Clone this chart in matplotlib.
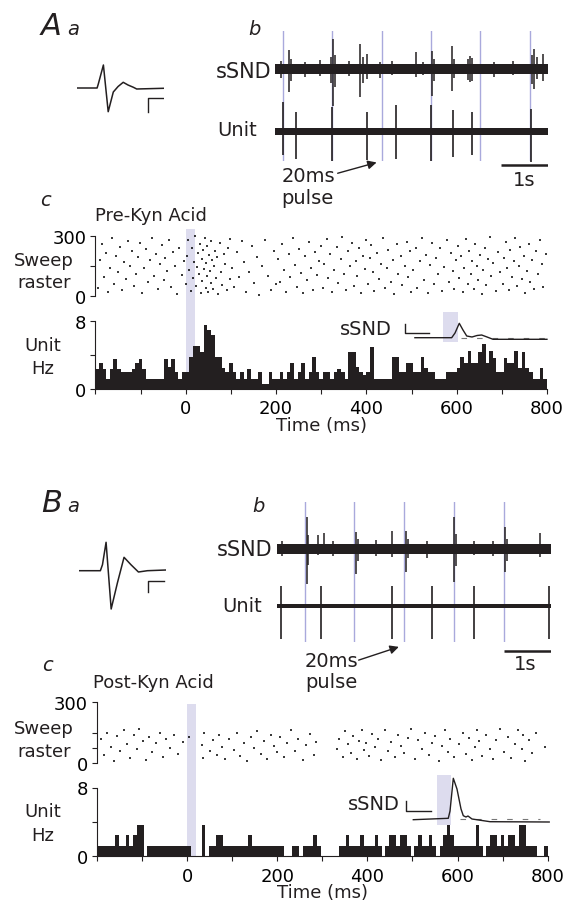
import numpy as np
import matplotlib
matplotlib.use('Agg')
import matplotlib.pyplot as plt

plt.rcParams['font.family'] = ['DejaVu Sans']
plt.rcParams['font.size'] = 13

W, H = 569, 904
INK = '#231f20'
SHADE = '#dddcee'
PULSE = '#a9a9dc'

# PSTH, 8 ms bins from -200 to 800 ms
bin_ms = 8
psth_a_hz = [2.4, 3.1, 2.4, 1.2, 2.4, 3.5, 2.4, 2.0, 2.0, 2.0, 2.4, 3.1, 3.5, 2.4, 1.2, 1.2, 1.2, 1.2, 1.2, 3.5, 2.6, 3.5, 2.0, 1.2, 2.0,
             2.0, 3.8, 5.1, 5.1, 4.3, 7.5, 6.9, 6.4, 3.8, 3.8, 2.5, 2.0, 3.1, 2.0, 1.2, 2.0, 1.2, 2.4, 1.2, 1.2, 2.0, 0.6, 0.6, 2.0, 1.2,
             1.2, 2.0, 1.2, 2.0, 3.1, 1.2, 2.0, 3.1, 1.2, 2.0, 3.8, 2.0,
             1.2, 2.0, 2.0, 1.2, 2.0, 2.4, 2.0, 1.2, 4.4, 4.4, 2.6, 2.0, 1.6,
             2.0, 5.0, 1.2, 1.2, 1.2, 1.2, 1.2, 3.8, 3.8, 2.0, 2.0, 3.1, 3.1, 2.0, 2.0, 3.8, 2.5, 2.0, 2.0, 1.2, 1.2, 1.2, 2.0, 2.0, 2.0,
             2.5, 3.8, 3.1, 4.5, 3.1, 3.1, 4.3, 5.3, 3.1, 4.5, 3.7, 2.0, 2.0, 3.7, 3.1, 3.1, 4.5, 2.5, 4.3, 2.5, 2.0, 1.2, 1.2, 2.5, 1.2]
psth_b_counts = [1, 1, 1, 1, 1, 2, 1, 1, 2, 1,
                 2, 3, 3, 0, 1, 1, 1, 1, 1, 1,
                 1, 1, 1, 1, 1, 1, 0, 0, 0, 3,
                 0, 1, 1, 2, 2, 1, 1, 1, 1, 1,
                 1, 1, 2, 1, 1, 1, 1, 1, 1, 1,
                 1, 1, 0, 0, 1, 1, 0, 1, 1, 1,
                 2, 1, 0, 0, 0, 0,
                 0, 1, 1, 2, 1, 1, 1, 2, 1, 1,
                 1, 2, 1, 0, 1, 2, 2, 1, 2, 2,
                 1, 0, 1, 2, 1, 1, 2, 1, 0, 1,
                 2, 3, 2, 1, 1, 1, 1, 1, 1, 3,
                 1, 0, 1, 2, 2, 1, 2, 1, 2, 2,
                 1, 3, 3, 1, 1, 1, 0, 0, 1]
hz_per_spike = 1.22

# sweep rasters: (time ms, sweep)
raster_a = [(-195, 40), (-190, 180), (-186, 260), (-181, 95), (-176, 215), (-172, 20), (-168, 140), (-163, 290), (-158, 60),
            (-154, 200), (-150, 120), (-146, 245), (-141, 30), (-137, 170), (-132, 85), (-128, 275), (-124, 150), (-119, 225),
            (-114, 50), (-110, 110), (-105, 195), (-102, 265),
            (-97, 15), (-93, 140), (-89, 235), (-84, 70), (-80, 180), (-75, 290), (-71, 100), (-66, 210), (-62, 35), (-58, 160),
            (-53, 255), (-49, 80), (-45, 190), (-41, 125), (-37, 280), (-33, 45), (-29, 220), (-24, 150), (-19, 10), (-14, 240),
            (-9, 105), (-4, 175),
            (1, 60), (3, 200), (6, 280), (8, 130), (11, 25), (13, 240), (16, 90), (18, 170), (21, 300), (23, 50), (25, 145),
            (27, 215), (29, 110), (31, 260), (33, 15), (35, 185), (37, 75), (39, 230), (40, 135), (42, 290), (44, 40), (45, 165),
            (47, 100), (48, 250), (50, 20), (52, 205), (53, 125), (55, 65), (57, 275), (58, 180), (60, 35), (62, 150), (64, 225),
            (66, 90), (69, 195), (72, 10), (75, 265), (78, 120), (81, 55), (84, 210), (88, 160), (91, 30), (94, 240), (97, 85),
            (99, 285),
            (103, 140), (108, 45), (113, 220), (118, 95), (124, 275), (129, 170), (134, 20), (140, 120), (146, 250), (151, 65),
            (157, 195), (163, 5), (170, 150), (176, 280), (183, 100), (189, 30), (195, 225), (199, 60),
            (204, 185), (209, 70), (214, 260), (218, 130), (223, 20), (228, 210), (232, 95), (237, 290), (241, 155), (246, 45),
            (250, 235), (255, 115), (259, 15), (264, 200), (268, 80), (273, 270), (277, 140), (282, 30), (286, 220), (291, 105),
            (295, 175), (299, 250),
            (303, 40), (307, 160), (312, 285), (316, 90), (320, 210), (325, 20), (329, 130), (334, 245), (338, 65), (343, 185),
            (347, 295), (351, 110), (356, 30), (360, 225), (364, 150), (368, 265), (372, 50), (376, 175), (380, 100), (384, 240),
            (388, 15), (392, 200), (396, 135), (399, 280),
            (403, 60), (407, 190), (411, 255), (414, 120), (418, 25), (423, 215), (427, 85), (432, 160), (436, 290), (441, 40),
            (445, 140), (449, 230), (454, 70), (458, 180), (462, 10), (467, 260), (471, 110), (476, 200), (480, 55), (485, 150),
            (489, 270), (493, 95), (497, 225), (499, 20),
            (504, 130), (509, 240), (513, 40), (518, 175), (523, 290), (527, 80), (532, 205), (536, 15), (541, 155), (545, 265),
            (550, 60), (555, 190), (559, 110), (564, 240), (568, 25), (573, 145), (578, 280), (582, 70), (587, 215), (591, 125),
            (595, 35), (599, 180),
            (603, 250), (606, 90), (610, 200), (613, 20), (617, 140), (620, 285), (624, 60), (627, 225), (631, 110), (634, 175),
            (638, 35), (641, 260), (645, 150), (648, 80), (652, 205), (655, 10), (659, 130), (662, 240), (666, 55), (669, 185),
            (673, 295), (677, 100), (681, 165), (686, 25), (691, 220), (696, 120),
            (702, 60), (705, 190), (709, 270), (712, 140), (716, 30), (719, 230), (723, 95), (727, 175), (730, 290), (734, 50),
            (738, 150), (741, 245), (745, 85), (748, 200), (752, 15), (756, 125), (760, 260), (763, 70), (767, 180), (771, 35),
            (775, 225), (779, 110), (784, 280), (788, 160), (792, 45), (797, 210)]
raster_b = [(-192, 120), (-185, 40), (-178, 150), (-170, 80), (-163, 10), (-155, 135), (-148, 60), (-141, 160), (-133, 95),
            (-126, 25), (-118, 140), (-112, 70), (-106, 165), (-99, 110), (-92, 15), (-84, 130), (-77, 55), (-69, 100),
            (-61, 150), (-54, 30), (-46, 120), (-38, 75), (-29, 140), (-20, 45), (-10, 105),
            (4, 130), (33, 90), (35, 25), (38, 150), (51, 60), (58, 115), (66, 40), (70, 140), (77, 80), (85, 20), (93, 120),
            (104, 65), (111, 150), (118, 35), (126, 100), (133, 10), (141, 130), (148, 75), (156, 155), (163, 45), (171, 110),
            (178, 20), (186, 140), (193, 85), (199, 55),
            (206, 130), (214, 30), (222, 100), (231, 160), (239, 60), (247, 120), (256, 15), (264, 90), (272, 145), (281, 40),
            (286, 105),
            (333, 70), (338, 120), (345, 30), (350, 155), (356, 95), (363, 50), (369, 135), (376, 20), (382, 110), (388, 160),
            (393, 65), (397, 100),
            (404, 35), (411, 145), (417, 80), (424, 120), (431, 15), (438, 160), (446, 60), (453, 105), (461, 30), (468, 140),
            (475, 85), (482, 50), (489, 125), (496, 165),
            (506, 20), (513, 115), (521, 70), (528, 150), (536, 40), (543, 100), (551, 135), (558, 10), (566, 85), (573, 160),
            (579, 55), (583, 120), (592, 30),
            (604, 95), (611, 150), (618, 45), (625, 125), (632, 15), (639, 80), (644, 160), (647, 110), (655, 35), (663, 140),
            (671, 70), (679, 20), (686, 115), (695, 165),
            (703, 55), (711, 130), (719, 25), (727, 95), (735, 160), (742, 70), (745, 140), (749, 10), (758, 115), (766, 50),
            (774, 150), (794, 80)]

# averaged unit waveforms (a)
wave_a_t = [0, 0.67, 0.71, 0.88, 1.04, 1.21, 1.37, 1.54, 1.70, 1.88, 1.99, 2.88]
wave_a_v = [0, 0, 4, 23, -23.7, -4, 1.5, 5.7, 3, 0.7, -1, -0.3]
wave_b_t = [0, 0.73, 0.80, 0.92, 1.09, 1.30, 1.52, 1.75, 2.00, 2.30, 2.92]
wave_b_v = [0, 0, 6, 28.4, -38.3, -12, 13.4, 6, -1.3, 0, 0.7]

# averaged sSND insets, ms from pulse onset
avg_a_t = [-40, 11.8, 16.5, 22.5, 27.7, 33, 40.4, 47.5, 54, 61.6, 70, 146]
avg_a_v = [0, 0, 4.7, 14.4, 7.7, 1.7, 0.7, 2.2, 2.7, 0.7, -1.6, -1.6]
avg_b_t = [-35.8, 16.4, 19, 23.9, 29.4, 35.4, 38.8, 42.8, 45.8, 51.8, 78.7, 167]
avg_b_v = [0, 1.4, 8.7, 41.4, 30.7, 10.7, 4, 2.7, 3.7, 0.7, -2, -2.3]

# raw traces (b): pulse times (s) and events (time s, up, down)
pulses_a = [0.17, 1.20, 2.24, 3.28, 4.31, 5.35]
ssnd_a = [(0.12, 8, 9), (0.29, 19, 23), (0.33, 10, 12), (0.62, 7, 8), (0.95, 9, 7), (1.18, 12, 14), (1.22, 30, 37),
          (1.26, 14, 18), (1.55, 8, 7), (1.79, 25, 28), (1.84, 12, 14), (1.93, 15, 10), (2.20, 7, 9), (2.45, 8, 6),
          (2.96, 17, 8), (3.10, 7, 6), (3.30, 18, 27), (3.34, 10, 12), (3.72, 23, 22), (3.76, 10, 9), (4.05, 10, 11),
          (4.10, 13, 13), (4.14, 11, 12), (4.60, 7, 8), (5.00, 8, 6), (5.40, 14, 15), (5.44, 20, 20), (5.50, 12, 10),
          (5.63, 15, 12)]
unit_a = [(0.17, 29, 24), (0.44, 19, 28), (1.20, 24, 30), (1.93, 19.5, 28.5), (2.54, 26, 28), (3.28, 26, 29.5),
          (3.73, 21.5, 26), (4.14, 19.5, 24), (5.38, 22, 30.5)]
pulses_b = [0.59, 1.64, 2.70, 3.76, 4.82]
ssnd_b = [(0.10, 8, 7), (0.63, 32, 35), (0.67, 14, 16), (0.88, 14, 6), (1.00, 16, 5), (1.20, 8, 7), (1.68, 17, 25),
          (1.72, 10, 12), (2.10, 9, 7), (2.45, 18, 8), (2.74, 18, 23), (2.78, 10, 9), (3.20, 8, 9), (3.77, 32, 33),
          (3.81, 15, 17), (4.20, 8, 6), (4.60, 8, 7), (4.86, 22, 23), (4.90, 10, 12), (5.60, 16, 8)]
unit_b = [(0.085, 20, 33), (0.94, 20, 33), (2.45, 20, 33), (3.30, 20, 33), (4.20, 20, 33), (5.79, 20, 33)]

fig = plt.figure(figsize=(W / 100, H / 100), dpi=100)


def box(x0, y0, x1, y1):
    # axes from pixel box (origin top-left)
    return fig.add_axes([x0 / W, 1 - y1 / H, (x1 - x0) / W, (y1 - y0) / H])


def put(x, y, s, **kw):
    kw.setdefault('va', 'center')
    kw.setdefault('color', INK)
    fig.text(x / W, 1 - y / H, s, **kw)


def arrow(tail, head):
    fig.add_artist(matplotlib.patches.FancyArrowPatch(
        (tail[0] / W, 1 - tail[1] / H), (head[0] / W, 1 - head[1] / H), transform=fig.transFigure,
        arrowstyle='-|>', mutation_scale=13, color=INK, lw=1.0))


def style(ax):
    for s in ['top', 'right']:
        ax.spines[s].set_visible(False)
    for s in ['left', 'bottom']:
        ax.spines[s].set_linewidth(0.8)
        ax.spines[s].set_color(INK)
    ax.patch.set_alpha(0)
    ax.tick_params(which='both', direction='out', length=3.5, width=0.8, color=INK, labelsize=13, pad=3)


def draw_panel(P):
    put(P['letter'][1], P['letter'][2], P['letter'][0], fontsize=22, style='italic', va='baseline')
    put(P['sub_a'][0], P['sub_a'][1], 'a', fontsize=14, style='italic', va='baseline')
    put(P['sub_b'][0], P['sub_b'][1], 'b', fontsize=14, style='italic', va='baseline')

    # a: waveform
    wx0, wyc, wx1, wr, wT = P['wave_box']
    ax = box(wx0, wyc - wr, wx1, wyc + wr)
    ax.set_xlim(0, wT)
    ax.set_ylim(-wr, wr)
    ax.axis('off')
    ax.plot(P['wave_t'], P['wave_v'], color=INK, lw=1.1)
    bx, bv0, bv1, bx1 = P['wave_bar']
    ax.plot([bx, bx, bx1], [bv0, bv1, bv1], color=INK, lw=1.0)

    # b: raw traces
    tx0, tx1, T = P['trace_x']
    axp = box(tx0, P['pulse_y'][0], tx1, P['pulse_y'][1])
    axp.set_xlim(0, T)
    axp.axis('off')
    for t in P['pulses']:
        axp.axvline(t, color=PULSE, lw=1.0)

    R = 40
    axs = box(tx0, P['ssnd_y'] - R, tx1, P['ssnd_y'] + R)
    axs.set_xlim(0, T)
    axs.set_ylim(-R, R)
    axs.axis('off')
    axs.fill_between([0, T], -P['ssnd_band'], P['ssnd_band'], color=INK, lw=0)
    ev = np.array(P['ssnd'])
    axs.vlines(ev[:, 0], -ev[:, 2], ev[:, 1], color=INK, lw=1.1)

    R = 60
    axu = box(tx0, P['unit_y'] - R, tx1, P['unit_y'] + R)
    axu.set_xlim(0, T)
    axu.set_ylim(-R, R)
    axu.axis('off')
    axu.fill_between([0, T], -P['unit_band'], P['unit_band'], color=INK, lw=0)
    ev = np.array(P['unit'])
    axu.vlines(ev[:, 0], -ev[:, 2], ev[:, 1], color=INK, lw=1.2)
    axu.plot([T - 1, T], [P['bar_v'], P['bar_v']], color=INK, lw=1.8, solid_capstyle='butt')

    put(P['ssnd_lab'][0], P['ssnd_lab'][1], 'sSND', fontsize=15, ha='right')
    put(P['unit_lab'][0], P['unit_lab'][1], 'Unit', fontsize=14, ha='right')
    put(P['one_s'][0], P['one_s'][1], '1s', fontsize=14, ha='center')
    put(P['pulse_txt'][0], P['pulse_txt'][1], '20ms', fontsize=14)
    put(P['pulse_txt'][0], P['pulse_txt'][2], 'pulse', fontsize=14)
    arrow(P['arrow'][0], P['arrow'][1])

    # c: raster + PSTH
    put(P['c'][0], P['c'][1], 'c', fontsize=14, style='italic')
    put(P['cond'][1], P['cond'][2], P['cond'][0], fontsize=13)
    hx0, hx1 = P['hist_x']

    bg = box(hx0, P['shade_y'][0], hx1, P['shade_y'][1])
    bg.set_xlim(-200, 800)
    bg.axvspan(0, 20, color=SHADE, lw=0)
    bg.axis('off')

    axr = box(hx0, P['raster_y'][0], hx1, P['raster_y'][1])
    style(axr)
    axr.spines['bottom'].set_visible(False)
    axr.set_xlim(-200, 800)
    axr.set_ylim(0, 300)
    rt, rs = zip(*P['raster'])
    axr.plot(rt, rs, ls='none', marker='_', ms=2.0, mew=1.1, color='black', clip_on=False)
    axr.set_xticks([])
    axr.set_yticks([0, 300])
    axr.set_yticks(P['sweep_minor'], minor=True)

    axh = box(hx0, P['hist_y'][0], hx1, P['hist_y'][1])
    style(axh)
    axh.set_xlim(-200, 800)
    axh.set_ylim(0, 8)
    edges = np.arange(-200, 800, bin_ms)
    axh.bar(edges, P['hz'], width=bin_ms, align='edge', color=INK, linewidth=0)
    axh.set_yticks([0, 8])
    axh.set_yticks([4], minor=True)
    axh.set_xticks([0, 200, 400, 600, 800])
    axh.set_xticks([-200, -100, 100, 300, 500, 700], minor=True)
    axh.tick_params(axis='x', pad=4)

    put(44, P['sweep_lab'][0], 'Sweep', ha='center')
    put(44, P['sweep_lab'][1], 'raster', ha='center')
    put(43, P['unit_hz'][0], 'Unit', ha='center')
    put(43, P['unit_hz'][1], 'Hz', ha='center')
    put((hx0 + hx1) / 2, P['time_y'], 'Time (ms)', ha='center')

    # inset: averaged sSND
    ix0, iy0, ix1, iy1, ixl, iyl = P['inset']
    axi = box(ix0, iy0, ix1, iy1)
    axi.set_xlim(*ixl)
    axi.set_ylim(*iyl)
    axi.axis('off')
    axi.fill_between([0, 20], P['inset_shade'][0], P['inset_shade'][1], color=SHADE, lw=0)
    axi.plot(P['dash'][:2], [P['dash'][2]] * 2, color='#777777', lw=0.8, dashes=(5, 9))
    axi.plot(P['avg_t'], P['avg_v'], color=INK, lw=1.0)
    sb = P['inset_bar']
    axi.plot([sb[0], sb[0], sb[1]], [sb[2], sb[3], sb[3]], color=INK, lw=1.0)
    put(P['inset_lab'][0], P['inset_lab'][1], 'sSND', fontsize=14, ha='right')


panel_a = dict(
    letter=('A', 41, 35), sub_a=(67, 35), sub_b=(248, 35),
    wave_box=(77, 89, 164, 29, 2.9), wave_t=wave_a_t, wave_v=wave_a_v, wave_bar=(2.37, -24, -10, 2.87),
    trace_x=(275, 548.3, 5.74), pulse_y=(31.7, 161.7), pulses=pulses_a,
    ssnd_y=70, ssnd_band=5, ssnd=ssnd_a, unit_y=132.3, unit_band=3.5, unit=unit_a, bar_v=-33.4,
    ssnd_lab=(271, 71.7), unit_lab=(257, 130), one_s=(524.5, 180), pulse_txt=(281.7, 176.7, 198),
    arrow=((335, 175), (379.3, 162.7)),
    c=(40, 200), cond=('Pre-Kyn Acid', 95, 216),
    hist_x=(95.4, 547), shade_y=(230, 390), raster_y=(236.7, 296.7), hist_y=(322, 390),
    raster=raster_a, sweep_minor=[150], hz=psth_a_hz,
    sweep_lab=(261, 283), unit_hz=(346, 369), time_y=426,
    inset=(380, 310, 550, 345, (-89.2, 150.3), (-6.3, 28.7)), inset_shade=(-4, 25.7), dash=(25, 146, 0),
    avg_t=avg_a_t, avg_v=avg_a_v, inset_bar=(-54, -20, 14, 5), inset_lab=(392, 330),
)

panel_b = dict(
    letter=('B', 41, 512), sub_a=(67, 512), sub_b=(252, 512),
    wave_box=(78.5, 571.7, 166, 42, 2.92), wave_t=wave_b_t, wave_v=wave_b_v, wave_bar=(2.31, -21.6, -10, 2.86),
    trace_x=(277, 551, 5.83), pulse_y=(503, 643), pulses=pulses_b,
    ssnd_y=550, ssnd_band=5, ssnd=ssnd_b, unit_y=606.7, unit_band=2, unit=unit_b, bar_v=-45,
    ssnd_lab=(272, 550), unit_lab=(262, 606.7), one_s=(525.5, 665), pulse_txt=(305, 661.7, 683),
    arrow=((356, 662), (401.5, 647)),
    c=(42, 666), cond=('Post-Kyn Acid', 93, 683),
    hist_x=(97, 547.7), shade_y=(705, 857.3), raster_y=(702.7, 764.3), hist_y=(788.5, 857.3),
    raster=raster_b, sweep_minor=[75, 150], hz=[c * hz_per_spike for c in psth_b_counts],
    sweep_lab=(729, 752), unit_hz=(812, 836), time_y=893,
    inset=(380, 774, 552, 828, (-85.5, 171.2), (-7.3, 46.7)), inset_shade=(-5.3, 44.7), dash=(34, 153, 0.7),
    avg_t=avg_b_t, avg_v=avg_b_v, inset_bar=(-46.7, -9.9, 19, 9), inset_lab=(400, 804),
)

draw_panel(panel_a)
draw_panel(panel_b)

fig.savefig('out.png', dpi=100)
